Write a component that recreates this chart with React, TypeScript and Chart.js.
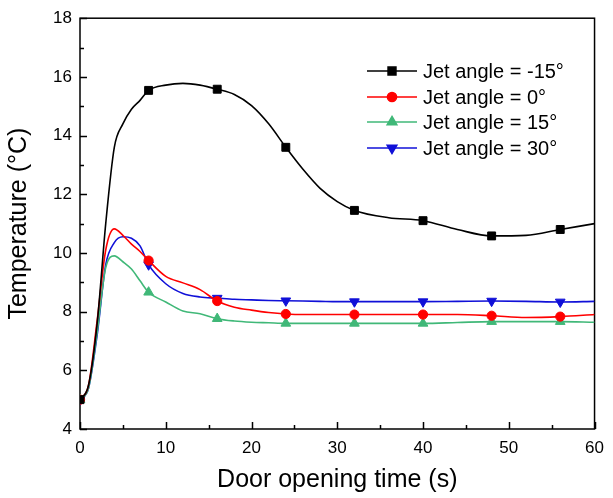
import React, { useEffect, useRef } from 'react';
import { Chart, registerables } from 'chart.js';
import { drawPoint } from 'chart.js/helpers';

Chart.register(...registerables);

// ---- data ----
const times = [0, 1, 2, 3, 4, 5, 6, 7, 8, 10, 12, 14, 16, 18, 20, 22, 24, 26, 28, 30, 32, 36, 40, 44, 48, 52, 56, 60];
const markerTimes = [0, 8, 16, 24, 32, 40, 48, 56];

const tempM15 = [5.0, 5.5, 7.6, 11.0, 13.6, 14.4, 14.9, 15.2, 15.54, 15.72, 15.78, 15.72, 15.58, 15.4, 15.02, 14.4, 13.6, 12.85, 12.2, 11.75, 11.45, 11.2, 11.1, 10.8, 10.58, 10.6, 10.8, 11.0];
const temp0 = [5.0, 5.5, 7.7, 10.1, 10.82, 10.6, 10.3, 10.05, 9.74, 9.2, 8.98, 8.75, 8.36, 8.15, 8.05, 7.97, 7.92, 7.9, 7.9, 7.9, 7.9, 7.9, 7.9, 7.9, 7.86, 7.8, 7.83, 7.9];
const temp15 = [5.0, 5.4, 7.3, 9.5, 9.9, 9.7, 9.45, 9.05, 8.66, 8.33, 8.02, 7.93, 7.76, 7.68, 7.64, 7.62, 7.6, 7.6, 7.6, 7.6, 7.6, 7.6, 7.6, 7.63, 7.66, 7.66, 7.66, 7.64];
const temp30 = [5.0, 5.4, 7.2, 9.6, 10.35, 10.55, 10.5, 10.24, 9.6, 8.95, 8.62, 8.5, 8.46, 8.42, 8.4, 8.38, 8.37, 8.36, 8.35, 8.34, 8.34, 8.34, 8.34, 8.35, 8.36, 8.35, 8.33, 8.35];

const seriesLabels = ['Jet angle = -15°', 'Jet angle = 0°', 'Jet angle = 15°', 'Jet angle = 30°'];
const seriesColors = ['#000000', '#ff0000', '#40b878', '#1010d8'];
const seriesMarkers = ['rect', 'circle', 'triangle', 'triangle'];
const seriesRotation = [0, 0, 0, 180];
const seriesRadius = [5.6, 4.6, 5.6, 5.6];
const seriesValues = [tempM15, temp0, temp15, temp30];

const xTickValues = [0, 10, 20, 30, 40, 50, 60];
const yTickValues = [4, 6, 8, 10, 12, 14, 16, 18];

const FONT = "'Liberation Sans', Arial, Helvetica, sans-serif";

const framePlugin = {
  id: 'frame',
  beforeDatasetsDraw(chart: any) {
    const { ctx, chartArea, scales } = chart;
    const { left, right, top, bottom } = chartArea;
    const x = scales.x;
    const y = scales.y;
    ctx.save();
    ctx.strokeStyle = '#000';
    ctx.lineWidth = 1.5;
    ctx.strokeRect(left, top, right - left, bottom - top);
    ctx.beginPath();
    for (let v = x.min; v <= x.max; v += 5) {
      const px = Math.round(x.getPixelForValue(v)) + 0.5;
      const len = v % 10 === 0 ? 7 : 4;
      ctx.moveTo(px, bottom);
      ctx.lineTo(px, bottom - len);
    }
    for (let v = y.min; v <= y.max; v += 1) {
      const py = Math.round(y.getPixelForValue(v)) + 0.5;
      const len = v % 2 === 0 ? 7 : 4;
      ctx.moveTo(left, py);
      ctx.lineTo(left + len, py);
    }
    ctx.stroke();
    ctx.restore();
  },
  afterDraw(chart: any) {
    const { ctx } = chart;
    ctx.save();
    const x0 = 367;
    const x1 = 417;
    const xm = 392;
    const xt = 423;
    const rows = [71, 97, 122, 148];
    ctx.font = `20px ${FONT}`;
    ctx.textBaseline = 'middle';
    ctx.textAlign = 'left';
    seriesLabels.forEach((label, i) => {
      const yy = rows[i];
      ctx.strokeStyle = seriesColors[i];
      ctx.fillStyle = seriesColors[i];
      ctx.lineWidth = 1.5;
      ctx.beginPath();
      ctx.moveTo(x0, yy);
      ctx.lineTo(x1, yy);
      ctx.stroke();
      drawPoint(ctx, {
        pointStyle: seriesMarkers[i],
        rotation: seriesRotation[i],
        radius: seriesRadius[i],
        borderWidth: 1,
      } as any, xm, yy);
      ctx.fillStyle = '#000';
      ctx.fillText(label, xt, yy + 1);
    });
    ctx.restore();
  },
};

export default function App() {
  const ref = useRef<HTMLCanvasElement | null>(null);

  useEffect(() => {
    if (!ref.current) return;
    Chart.defaults.font.family = FONT;
    const datasets = seriesValues.map((vals, i) => ({
      label: seriesLabels[i],
      data: times.map((t, k) => ({ x: t, y: vals[k] })),
      borderColor: seriesColors[i],
      backgroundColor: seriesColors[i],
      borderWidth: 1.6,
      pointStyle: seriesMarkers[i],
      rotation: seriesRotation[i],
      pointRadius: (c: any) => (markerTimes.includes(c.raw?.x) ? seriesRadius[i] : 0),
      pointBorderWidth: 1,
      pointHoverRadius: 0,
      cubicInterpolationMode: 'monotone' as const,
      fill: false,
      clip: 0,
    }));
    const chart = new Chart(ref.current, {
      type: 'line',
      data: { datasets },
      options: {
        responsive: false,
        animation: false,
        events: [],
        layout: { padding: { top: 12, right: 15, left: 0, bottom: 0 } },
        plugins: { legend: { display: false }, tooltip: { enabled: false } },
        scales: {
          x: {
            type: 'linear',
            min: 0,
            max: 60,
            afterBuildTicks: (s: any) => { s.ticks = xTickValues.map((v) => ({ value: v })); },
            afterFit: (s: any) => { s.height = 69; },
            ticks: { color: '#000', font: { size: 17, family: FONT }, padding: 9 },
            grid: { display: false, drawTicks: false },
            border: { display: false },
            title: {
              display: true,
              text: 'Door opening time (s)',
              color: '#000',
              font: { size: 25, family: FONT },
              padding: { top: 0, bottom: 3 },
            },
          },
          y: {
            type: 'linear',
            min: 4,
            max: 18,
            afterBuildTicks: (s: any) => { s.ticks = yTickValues.map((v) => ({ value: v })); },
            afterFit: (s: any) => { s.width = 80; },
            ticks: { color: '#000', font: { size: 17, family: FONT }, padding: 8 },
            grid: { display: false, drawTicks: false },
            border: { display: false },
            title: {
              display: true,
              text: 'Temperature (°C)',
              color: '#000',
              font: { size: 25, family: FONT },
              padding: { top: 4, bottom: 0 },
            },
          },
        },
      },
      plugins: [framePlugin],
    });
    return () => chart.destroy();
  }, []);

  return (
    <div style={{ position: 'fixed', left: 0, top: 0, width: 613, height: 498, background: '#fff' }}>
      <canvas ref={ref} width={613} height={498} />
    </div>
  );
}
